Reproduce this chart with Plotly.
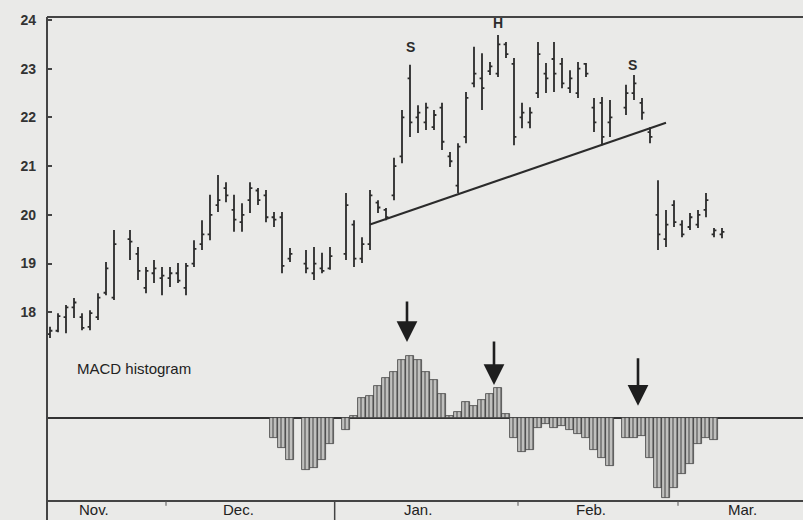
import plotly.graph_objs as go

# ── Data ─────────────────────────────────────────────────────────────────────

dates = [
    "1989-11-10", "1989-11-13", "1989-11-14", "1989-11-15", "1989-11-16", "1989-11-17",
    "1989-11-20", "1989-11-21", "1989-11-22", "1989-11-24", "1989-11-27", "1989-11-28",
    "1989-11-29", "1989-11-30",
    "1989-12-01", "1989-12-04", "1989-12-05", "1989-12-06", "1989-12-07", "1989-12-08",
    "1989-12-11", "1989-12-12", "1989-12-13", "1989-12-14", "1989-12-15",
    "1989-12-18", "1989-12-19", "1989-12-20", "1989-12-21", "1989-12-22",
    "1989-12-26", "1989-12-27", "1989-12-28", "1989-12-29",
    "1990-01-02", "1990-01-03", "1990-01-04", "1990-01-05",
    "1990-01-08", "1990-01-09", "1990-01-10", "1990-01-11", "1990-01-12",
    "1990-01-15", "1990-01-16", "1990-01-17", "1990-01-18", "1990-01-19",
    "1990-01-22", "1990-01-23", "1990-01-24", "1990-01-25", "1990-01-26",
    "1990-01-29", "1990-01-30", "1990-01-31", "1990-02-01", "1990-02-02",
    "1990-02-05", "1990-02-06", "1990-02-07", "1990-02-08", "1990-02-09",
    "1990-02-12", "1990-02-13", "1990-02-14", "1990-02-15", "1990-02-16",
    "1990-02-20", "1990-02-21", "1990-02-22", "1990-02-23",
    "1990-02-26", "1990-02-27", "1990-02-28", "1990-03-01", "1990-03-02",
    "1990-03-05", "1990-03-06", "1990-03-07", "1990-03-08",
]

opens = [
    17.55, 17.62, 17.90, 18.10, 17.90, 17.70, 17.90, 18.40, 18.30, 19.50, 19.20, 18.50, 18.80, 18.70,
    18.70, 18.80, 18.50, 19.00, 19.40, 19.60, 20.20, 20.55, 20.10, 19.85, 20.30,
    20.50, 20.40, 19.95, 19.95, 19.10, 19.00, 18.80, 18.90, 18.90,
    19.20, 19.80, 19.10, 19.40, 20.25, 20.10, 20.40, 21.20, 22.80,
    22.00, 21.90, 21.80, 22.20, 21.20, 20.60, 21.60, 22.70, 22.80, 22.95,
    22.90, 23.50, 23.10, 22.00, 21.90, 22.50, 22.90, 23.20, 23.10, 22.60,
    22.50, 23.10, 22.20, 22.30, 21.90, 22.20, 22.50, 22.30, 21.70,
    20.00, 19.50, 20.20, 19.80, 19.75, 19.80, 20.10, 19.60, 19.60,
]
highs = [
    17.70, 17.98, 18.15, 18.29, 17.98, 18.04, 18.39, 19.03, 19.69, 19.69, 19.34, 18.93, 19.07, 18.93,
    18.93, 19.01, 19.01, 19.48, 19.89, 20.41, 20.82, 20.67, 20.41, 20.24, 20.67,
    20.55, 20.51, 20.06, 20.06, 19.32, 19.28, 19.34, 19.22, 19.34,
    20.45, 19.89, 19.54, 20.51, 20.30, 20.14, 21.17, 22.15, 23.08,
    22.25, 22.30, 22.15, 22.30, 21.29, 21.47, 22.52, 23.45, 23.32, 23.14,
    23.69, 23.55, 23.22, 22.30, 22.21, 23.55, 23.12, 23.55, 23.22, 22.97,
    23.14, 23.12, 22.40, 22.42, 22.36, 22.67, 22.87, 22.40, 21.80,
    20.71, 20.10, 20.30, 19.89, 20.04, 20.10, 20.45, 19.73, 19.73,
]
lows = [
    17.47, 17.59, 17.57, 17.88, 17.63, 17.63, 17.84, 18.35, 18.25, 19.07, 18.66, 18.39, 18.60, 18.35,
    18.52, 18.60, 18.35, 18.93, 19.28, 19.48, 20.06, 20.26, 19.65, 19.65, 20.04,
    20.20, 19.85, 19.75, 18.80, 19.03, 18.80, 18.66, 18.80, 18.87,
    19.07, 18.93, 19.01, 19.28, 20.04, 19.89, 20.30, 21.06, 21.60,
    21.68, 21.74, 21.74, 21.33, 20.98, 20.45, 21.47, 22.62, 22.15, 22.87,
    22.83, 23.22, 21.43, 21.78, 21.78, 22.40, 22.50, 22.52, 22.60, 22.50,
    22.40, 22.83, 21.70, 21.43, 21.60, 22.05, 22.36, 21.95, 21.47,
    19.28, 19.34, 19.75, 19.54, 19.69, 19.73, 19.95, 19.54, 19.52,
]
closes = [
    17.62, 17.92, 18.10, 18.20, 17.68, 17.98, 18.30, 18.90, 19.40, 19.45, 18.85, 18.85, 18.90, 18.75,
    18.80, 18.65, 18.95, 19.30, 19.60, 20.00, 20.30, 20.40, 19.90, 20.00, 20.55,
    20.30, 19.95, 19.90, 18.95, 19.20, 18.90, 19.00, 18.85, 19.15,
    20.20, 19.10, 19.40, 20.40, 20.15, 19.95, 21.00, 22.00, 21.90,
    22.10, 22.20, 22.05, 21.50, 21.10, 21.40, 22.40, 22.90, 22.60, 23.05,
    23.50, 23.30, 21.60, 22.10, 22.10, 23.30, 22.80, 22.90, 22.70, 22.80,
    23.00, 22.90, 21.90, 21.60, 22.00, 22.50, 22.70, 22.10, 21.60,
    19.60, 19.80, 19.85, 19.60, 19.95, 20.00, 20.30, 19.68, 19.65,
]

# MACD histogram, one value per session from Dec 20 to Mar 7
macd_hist = [
    -0.10, -0.15, -0.21, -0.26, -0.25, -0.21, -0.13,
    -0.06, 0.01, 0.10, 0.11,
    0.16, 0.20, 0.23, 0.29, 0.31,
    0.29, 0.23, 0.19, 0.12, 0.01,
    0.03, 0.08, 0.06, 0.09, 0.12,
    0.15, 0.02, -0.10, -0.17, -0.16,
    -0.05, -0.03, -0.05, -0.04, -0.06,
    -0.08, -0.10, -0.16, -0.20, -0.24,
    -0.10, -0.10, -0.09, -0.20,
    -0.35, -0.40, -0.35, -0.28, -0.23,
    -0.13, -0.10, -0.11,
]
macd_start = dates.index("1989-12-20")
macd_dates = dates[macd_start:macd_start + len(macd_hist)]

# head-and-shoulders neckline
neck_dates = ["1990-01-05", "1990-02-27"]
neck_prices = [19.80, 21.89]

# pattern labels
hs_labels = ["S", "H", "S"]
hs_dates = ["1990-01-12", "1990-01-29", "1990-02-20 18:00"]
hs_prices = [23.45, 23.93, 23.08]

# arrows over the histogram peaks
arrow_dates = ["1990-01-11 15:00", "1990-01-26 12:00", "1990-02-21 12:00"]

month_labels = ["Nov.", "Dec.", "Jan.", "Feb.", "Mar."]
month_pos = ["1989-11-17 12:00", "1989-12-13 12:00", "1990-01-15", "1990-02-13 15:00", "1990-03-12 12:00"]

price_ticks = [18, 19, 20, 21, 22, 23, 24]

# ── Figure ───────────────────────────────────────────────────────────────────

INK = "#2b2b2b"
PAPER = "#eaeae8"

fig = go.Figure()

fig.add_trace(go.Ohlc(
    x=dates, open=opens, high=highs, low=lows, close=closes,
    increasing=dict(line=dict(color=INK, width=1.8)),
    decreasing=dict(line=dict(color=INK, width=1.8)),
    tickwidth=0.3, showlegend=False, hoverinfo="skip",
    xaxis="x", yaxis="y",
))

fig.add_trace(go.Scatter(
    x=neck_dates, y=neck_prices, mode="lines",
    line=dict(color=INK, width=2), showlegend=False, hoverinfo="skip",
    xaxis="x", yaxis="y",
))

# histogram: full-width bars with vertical hatching, like the printed chart
fig.add_trace(go.Bar(
    x=macd_dates, y=macd_hist, width=86400000,
    marker=dict(
        color="#b8b8b6",
        line=dict(color="#444", width=0.8),
        pattern=dict(shape="|", size=4, solidity=0.45, fgcolor="#363636", bgcolor="#c0c0be"),
    ),
    showlegend=False, hoverinfo="skip",
    xaxis="x", yaxis="y2",
))

annotations = []
for txt, d, p in zip(hs_labels, hs_dates, hs_prices):
    annotations.append(dict(
        x=d, y=p, xref="x", yref="y", text=txt, showarrow=False,
        font=dict(family="Liberation Sans", size=14, color=INK, weight="bold"),
    ))

for d, tip, tail in zip(arrow_dates, [0.327, 0.238, 0.195], [-42, -45, -49]):
    annotations.append(dict(
        x=d, y=tip, xref="x", yref="paper", text="", showarrow=True,
        ax=0, ay=tail, arrowhead=2, arrowsize=1.6, arrowwidth=2.6, arrowcolor="#1e1e1e",
    ))

annotations.append(dict(
    x=0.037, y=0.273, xref="paper", yref="paper", text="MACD histogram",
    showarrow=False, xanchor="left", yanchor="middle",
    font=dict(family="Liberation Sans", size=15, color="#222"),
))

for lab, pos in zip(month_labels, month_pos):
    annotations.append(dict(
        x=pos, y=-0.042, xref="x", yref="paper", text=lab, showarrow=False,
        yanchor="bottom", font=dict(family="Liberation Sans", size=15, color="#222"),
    ))

shapes = [
    dict(type="line", xref="paper", yref="paper", x0=0, x1=1, y0=1, y1=1,
         line=dict(color="#444", width=2)),
    dict(type="line", xref="paper", yref="paper", x0=0, x1=0, y0=-0.06, y1=1,
         line=dict(color="#444", width=2)),
    dict(type="line", xref="x", yref="paper", x0="1989-12-29 14:00", x1="1989-12-29 14:00",
         y0=-0.004, y1=-0.06, line=dict(color="#444", width=1.5)),
]
for b in ["1989-11-30 12:00", "1990-01-31 12:00", "1990-02-28 12:00"]:
    shapes.append(dict(type="line", xref="x", yref="paper", x0=b, x1=b,
                       y0=-0.002, y1=-0.012, line=dict(color="#555", width=1)))

fig.update_layout(
    width=803, height=520,
    margin=dict(l=47, r=0, t=17, b=20, autoexpand=False),
    paper_bgcolor=PAPER, plot_bgcolor=PAPER,
    showlegend=False,
    bargap=0,
    xaxis=dict(
        type="date", anchor="y2", automargin=False,
        range=["1989-11-09 15:00", "1990-03-22 03:00"],
        rangebreaks=[dict(bounds=["sat", "mon"])],
        rangeslider=dict(visible=False),
        showgrid=False, zeroline=False,
        showline=True, linecolor="#444", linewidth=2,
        showticklabels=False, ticks="",
    ),
    yaxis=dict(
        domain=[0.3209, 1], range=[17.327, 24.062], automargin=False,
        tickvals=price_ticks, ticktext=[str(v) for v in price_ticks],
        ticks="inside", ticklen=5, tickwidth=1.5, tickcolor="#444",
        ticklabelstandoff=10,
        tickfont=dict(family="Liberation Sans", size=14, color="#333", weight="bold"),
        showgrid=False, zeroline=False, showline=False,
    ),
    yaxis2=dict(
        domain=[0, 0.3209], range=[-0.41, 0.365], automargin=False,
        showticklabels=False, ticks="", showgrid=False,
        zeroline=True, zerolinecolor="#333", zerolinewidth=1.6,
        showline=False,
    ),
    annotations=annotations,
    shapes=shapes,
)

# the page's default 8px body margin would push the chart off its frame
fig.write_html(
    "out.html",
    config={"displayModeBar": False},
    post_script="document.body.style.margin='0';document.body.style.background='%s';" % PAPER,
)
